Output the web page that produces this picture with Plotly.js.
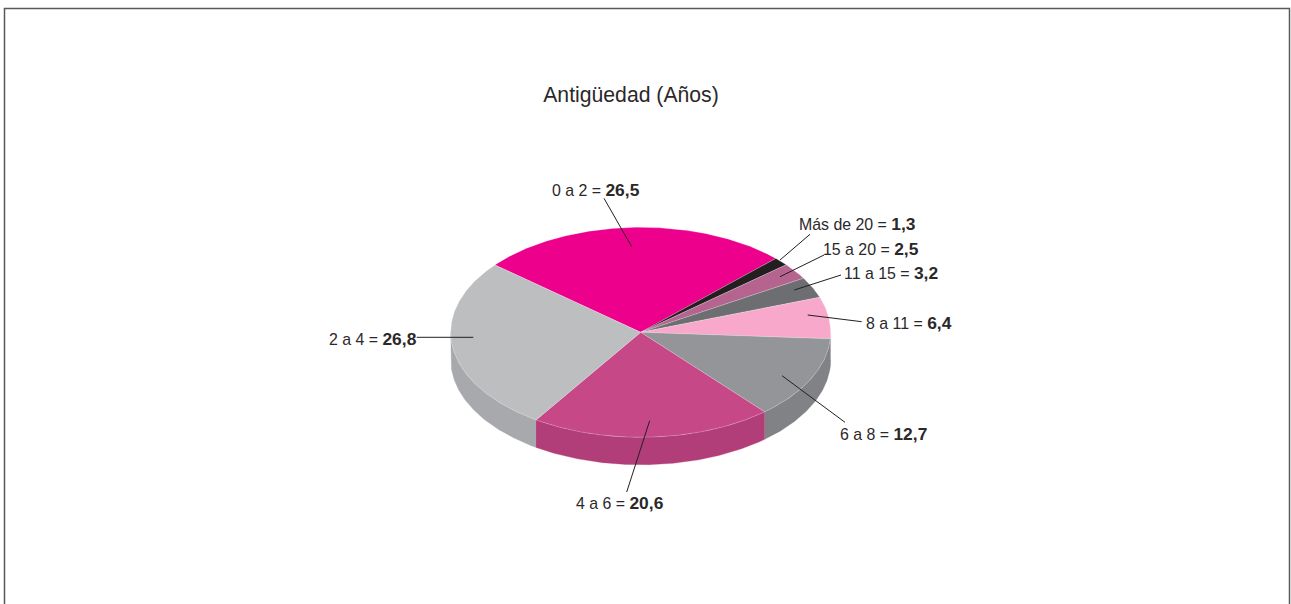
<!DOCTYPE html>
<html>
<head>
<meta charset="utf-8">
<script src="https://cdn.plot.ly/plotly-3.0.1.min.js"></script>
<style>html,body{margin:0;padding:0;background:#fff;overflow:hidden}#chart{width:1291px;height:604px}</style>
</head>
<body>
<div id="chart"></div>
<script>
// Data
const categories = ["0 a 2", "Más de 20", "15 a 20", "11 a 15", "8 a 11", "6 a 8", "4 a 6", "2 a 4"];
const values = [26.5, 1.3, 2.5, 3.2, 6.4, 12.7, 20.6, 26.8];
const titleText = "Antigüedad (Años)";

// Styles
const topColors = ["#EC008C", "#231F20", "#B5638F", "#6D6E71", "#F7A8CB", "#939598", "#C64887", "#BCBEC0"];
const sideColors = ["#B8006D", "#231F20", "#8F4A70", "#58595B", "#808285", "#808285", "#B13E78", "#A7A9AC"];
const startAngle = 219.9;

// Geometry, in page pixels
const W = 1291, H = 604;
const cx = 640.7, cy = 332.3, rx = 190, ry = 105, depth = 27.5;

// Label left edge and centre line, leader start and end
const labelLeft = [551, 798, 822, 843, 865, 839, 575, 328];
const labelMid = [190, 224, 249, 273, 323, 434, 503, 339];
const leaderX0 = [604, 810, 824, 841, 861.7, 845, 626.7, 416.7];
const leaderY0 = [198.3, 234.3, 255, 275, 321.7, 422.3, 492, 337.3];
const leaderX1 = [631.7, 780, 780, 794.3, 807.7, 782, 649.7, 473.3];
const leaderY1 = [246.7, 260, 276.7, 290, 315, 375.7, 420.7, 337.3];

const total = values.reduce((a, b) => a + b, 0);
const rad = d => d * Math.PI / 180;
const arc = (a, b, dy) => {
  const xs = [], ys = [], n = Math.max(2, Math.ceil(Math.abs(b - a) * 2));
  for (let i = 0; i <= n; i++) {
    const t = rad(a + (b - a) * i / n);
    xs.push(cx + rx * Math.cos(t));
    ys.push(cy + dy + ry * Math.sin(t));
  }
  return [xs, ys];
};
const poly = (x, y, color, line) => ({
  type: "scatter", mode: "lines", x, y, fill: "toself", fillcolor: color,
  line: line || { color: color, width: 0.3 }, hoverinfo: "skip", showlegend: false
});

const sides = [], tops = [], leaders = [];
let a = startAngle;
values.forEach((v, i) => {
  const b = a + v / total * 360;
  // a visible wall: the part of the slice on the front half of the disc
  [[a, b], [a - 360, b - 360]].forEach(([p, q]) => {
    const s = Math.max(p, 0), e = Math.min(q, 180);
    if (e > s) {
      const [x1, y1] = arc(s, e, 0), [x2, y2] = arc(e, s, depth);
      sides.push(poly(x1.concat(x2), y1.concat(y2), sideColors[i]));
    }
  });
  const [x, y] = arc(a, b, 0);
  tops.push(poly([cx].concat(x, [cx]), [cy].concat(y, [cy]), topColors[i],
    { color: "rgba(255,255,255,0.35)", width: 0.6 }));
  leaders.push({
    type: "scatter", mode: "lines",
    x: [leaderX0[i], leaderX1[i]], y: [leaderY0[i], leaderY1[i]],
    line: { color: "#231F20", width: 1 }, hoverinfo: "skip", showlegend: false
  });
  a = b;
});

const annotations = categories.map((c, i) => ({
  xref: "paper", yref: "paper",
  x: labelLeft[i] / W, y: 1 - labelMid[i] / H,
  xanchor: "left", yanchor: "middle", showarrow: false, borderpad: 0,
  text: c + " = <span style=\"font-weight:bold;font-size:17.4px\">" + values[i].toFixed(1).replace(".", ",") + "</span>",
  font: { family: "Liberation Sans, Arial, sans-serif", size: 15.9, color: "#2B2829" }
}));

const layout = {
  width: W, height: H,
  margin: { l: 0, r: 0, t: 0, b: 0 },
  paper_bgcolor: "#fff", plot_bgcolor: "#fff",
  showlegend: false,
  title: {
    text: titleText, x: 631 / W, y: 1 - 95 / H, xref: "paper", yref: "paper",
    xanchor: "center", yanchor: "middle",
    font: { family: "Liberation Sans, Arial, sans-serif", size: 21.2, color: "#2B2829" }
  },
  xaxis: { range: [0, W], visible: false, fixedrange: true },
  yaxis: { range: [H, 0], visible: false, fixedrange: true },
  annotations,
  shapes: [{
    type: "path", xref: "x", yref: "y",
    path: "M4.5,604 L4.5,8.5 L1289.5,8.5 L1289.5,604",
    line: { color: "#58595B", width: 1.5 }
  }]
};

Plotly.newPlot("chart", sides.concat(tops, leaders), layout, { staticPlot: true, displayModeBar: false });
</script>
</body>
</html>
